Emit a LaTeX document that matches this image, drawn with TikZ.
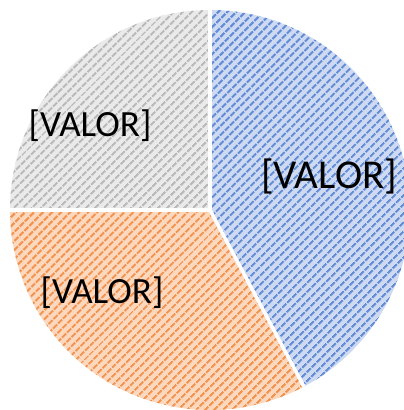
\documentclass[tikz,border=0pt]{standalone}
\usepackage{fontspec}
\setmainfont{Carlito}
\usetikzlibrary{patterns.meta}
\definecolor{blueL}{RGB}{205,218,242}
\definecolor{blueD}{RGB}{100,140,214}
\definecolor{orangeL}{RGB}{252,216,190}
\definecolor{orangeD}{RGB}{242,148,80}
\definecolor{grayL}{RGB}{234,234,234}
\definecolor{grayD}{RGB}{185,185,185}
\tikzset{
  slice/.style n args={2}{fill=#1, postaction={pattern={Lines[angle=45,distance=6.5pt,line width=2.6pt]}, pattern color=#2}},
  sep/.style={draw=white, line width=3.5pt, line join=round},
  lbl/.style={text=black, inner sep=0pt}
}
\begin{document}
\begin{tikzpicture}[x=1pt,y=1pt]
\useasboundingbox (0,0) rectangle (404,410);
\fill[white] (0,0) rectangle (404,410);
\coordinate (c) at (210,200);
\def\R{200}
\path[slice={blueL}{blueD}] (c) -- ++(90:\R) arc[start angle=90, end angle=-62, radius=\R] -- cycle;
\path[slice={orangeL}{orangeD}] (c) -- ++(-62:\R) arc[start angle=-62, end angle=-180, radius=\R] -- cycle;
\path[slice={grayL}{grayD}] (c) -- ++(180:\R) arc[start angle=180, end angle=90, radius=\R] -- cycle;
\draw[sep] (c) -- ++(90:\R);
\draw[sep] (c) -- ++(-62:\R);
\draw[sep] (c) -- ++(180:\R);
\node[lbl, font=\fontsize{41}{43}\selectfont] (vb) at (329,234) {[VALOR]};
\node[lbl, font=\fontsize{37}{39}\selectfont] (vg) at (90,284) {[VALOR]};
\node[lbl, font=\fontsize{37}{39}\selectfont] (vo) at (102,117) {[VALOR]};
\end{tikzpicture}
\end{document}
